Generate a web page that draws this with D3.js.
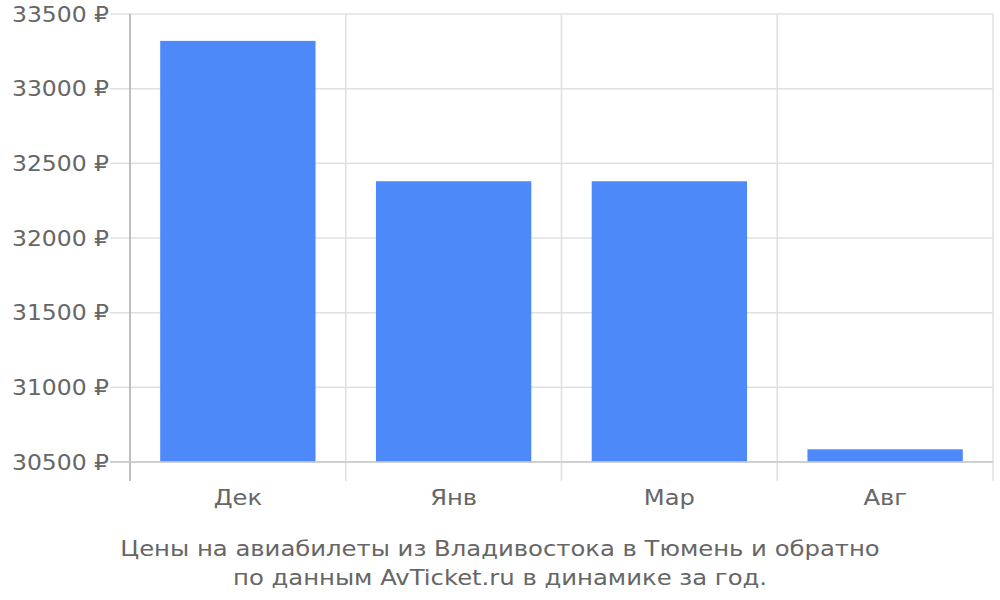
<!DOCTYPE html>
<html><head><meta charset="utf-8">
<script src="https://cdn.jsdelivr.net/npm/d3@7"></script>
<style>body{margin:0;background:#fff}svg{display:block}text{font-family:"DejaVu Sans",sans-serif;fill:#666}</style>
</head><body>
<svg id="c" width="1000" height="600"></svg>
<script>
const categories = ["Дек", "Янв", "Мар", "Авг"];
const prices = [33320, 32380, 32380, 30585];
const yTicks = [30500, 31000, 31500, 32000, 32500, 33000, 33500];
const captionLines = ["Цены на авиабилеты из Владивостока в Тюмень и обратно", "по данным AvTicket.ru в динамике за год."];

const svg = d3.select("#c");
const L = 130, R = 993, T = 14, B = 462;
const x = d3.scaleBand().domain(categories).range([L, R]).paddingInner(0.28).paddingOuter(0.14);
const y = d3.scaleLinear().domain([30500, 33500]).range([B, T]);
const step = x.step();

// horizontal grid
svg.append("g").selectAll("line").data(yTicks).join("line")
  .attr("x1", 110).attr("x2", R).attr("y1", d => y(d)).attr("y2", d => y(d))
  .attr("stroke", d => d === 30500 ? "#ccc" : "#e0e0e0").attr("stroke-width", 1.5);

// vertical grid
const vx = categories.map((c, i) => L + step * (i + 1));
svg.append("g").selectAll("line").data(vx).join("line")
  .attr("x1", d => d).attr("x2", d => d).attr("y1", T).attr("y2", 481)
  .attr("stroke", "#e0e0e0").attr("stroke-width", 1.5);

// y axis line
svg.append("line").attr("x1", L).attr("x2", L).attr("y1", T).attr("y2", 481)
  .attr("stroke", "#aaa").attr("stroke-width", 1.5);

// bars
svg.append("g").selectAll("rect").data(categories).join("rect")
  .attr("x", d => x(d)).attr("width", x.bandwidth())
  .attr("y", (d, i) => y(prices[i])).attr("height", (d, i) => B - y(prices[i]))
  .attr("fill", "#4d89f9");

// redraw baseline over bars
svg.append("line").attr("x1", 110).attr("x2", R).attr("y1", B).attr("y2", B)
  .attr("stroke", "#ccc").attr("stroke-width", 1.5);

// y labels
svg.append("g").selectAll("text").data(yTicks).join("text")
  .attr("transform", d => `translate(109,${y(d)}) scale(1.067,1)`).attr("dy", "0.35em")
  .attr("text-anchor", "end").attr("font-size", 22)
  .text(d => d + " ₽");

// x labels
svg.append("g").selectAll("text").data(categories).join("text")
  .attr("transform", d => `translate(${x(d) + x.bandwidth() / 2},505) scale(1.1,1)`)
  .attr("text-anchor", "middle").attr("font-size", 22)
  .text(d => d);

// caption
svg.append("g").selectAll("text").data(captionLines).join("text")
  .attr("transform", (d, i) => `translate(500,${556 + i * 29}) scale(1.105,1)`)
  .attr("text-anchor", "middle").attr("font-size", 22)
  .text(d => d);
</script>
</body></html>
